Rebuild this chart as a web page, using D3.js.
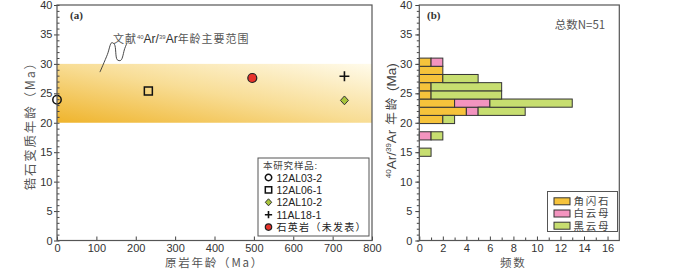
<!DOCTYPE html>
<html><head><meta charset="utf-8">
<script src="https://cdn.jsdelivr.net/npm/d3@7"></script>
<style>body{margin:0;background:#fff}svg{display:block}</style>
</head><body><svg id="c" width="700" height="271"></svg>
<script>
// ---- Panel (a) data ----
const samples = ["12AL03-2", "12AL06-1", "12AL10-2", "11AL18-1", "石英岩（未发表）"];
const sampleSymbols = ["circle", "square", "diamond", "plus", "dot"];
const protolithAge = [0, 232, 730, 730, 496];
const metamorphicAge = [23.9, 25.4, 23.8, 27.9, 27.6];
const bandRange = [20, 30];
const xTicksA = [0, 100, 200, 300, 400, 500, 600, 700, 800];
const yTicks = [0, 5, 10, 15, 20, 25, 30, 35, 40];

// ---- Panel (b) data ----
const binStart = [14.3, 17.08, 19.86, 21.25, 22.64, 24.03, 25.42, 26.81, 28.2, 29.59];
const binWidth = 1.39;
const minerals = ["角闪石", "白云母", "黑云母"];
const hornblende = [0, 0, 2, 4, 3, 1, 1, 2, 2, 1];
const muscovite = [0, 1, 0, 1, 3, 0, 0, 0, 0, 1];
const biotite = [1, 1, 1, 4, 7, 6, 6, 3, 0, 0];
const xTicksB = [0, 2, 4, 6, 8, 10, 12, 14, 16];
const totalN = 51;

const svg = d3.select("#c");
const SANS = "'Liberation Sans', Arial, sans-serif";
const CJK = "'Noto Sans CJK SC', 'Liberation Sans', sans-serif";
const CJKL = "'Liberation Sans', 'Noto Sans CJK SC', sans-serif";
const axisCol = "#444";

const yTop = 5, yBottom = 240.5;
const y = d3.scaleLinear().domain([0, 40]).range([yBottom, yTop]);
const xA = d3.scaleLinear().domain([0, 800]).range([57, 372]);
const xB = d3.scaleLinear().domain([0, 17]).range([419.3, 619.3]);

// gradient
const defs = svg.append("defs");
const g1 = defs.append("linearGradient").attr("id", "band")
  .attr("x1", 0).attr("y1", 1).attr("x2", 1).attr("y2", 0);
g1.append("stop").attr("offset", 0).attr("stop-color", "#efb42c");
g1.append("stop").attr("offset", 0.5).attr("stop-color", "#f8dd95");
g1.append("stop").attr("offset", 1).attr("stop-color", "#fffbeb");

// ===== Panel (a) =====
const A = svg.append("g");
A.append("rect")
  .attr("x", xA(0)).attr("width", xA(800) - xA(0))
  .attr("y", y(bandRange[1])).attr("height", y(bandRange[0]) - y(bandRange[1]))
  .attr("fill", "url(#band)");

function styleAxis(g) {
  g.select(".domain").remove();
  g.selectAll("line").attr("stroke", axisCol).attr("stroke-width", 1);
  g.selectAll("text").attr("font-family", SANS).attr("font-size", 11).attr("fill", "#333");
}
// y axis A
A.append("g").attr("transform", `translate(${xA(0)},0)`)
  .call(d3.axisLeft(y).tickValues(d3.range(0, 41, 1)).tickSize(-2.5).tickFormat(""))
  .call(styleAxis);
A.append("g").attr("transform", `translate(${xA(0)},0)`)
  .call(d3.axisLeft(y).tickValues(yTicks).tickSize(3).tickPadding(1.5))
  .call(styleAxis);
// x axis A
A.append("g").attr("transform", `translate(0,${yBottom})`)
  .call(d3.axisBottom(xA).tickValues(xTicksA).tickSize(-4).tickPadding(3.5))
  .call(styleAxis);

// annotation
const annPts = [[109, 28.6], [128, 31.6], [139, 33.6], [146, 33.3], [153, 30.7], [162, 30.6], [172, 32.6], [178, 33.6]];
A.append("path")
  .attr("d", d3.line().x(d => xA(d[0])).y(d => y(d[1])).curve(d3.curveCatmullRom)(annPts))
  .attr("fill", "none").attr("stroke", "#333").attr("stroke-width", 0.9);
const ann = A.append("text").attr("x", xA(142)).attr("y", y(33.6))
  .attr("font-family", CJK).attr("font-size", 11).attr("fill", "#555");
ann.append("tspan").text("文献").attr("letter-spacing", 1);
ann.append("tspan").text("40").attr("font-size", 6).attr("dy", -4).attr("font-family", SANS);
ann.append("tspan").text("Ar/").attr("dy", 4).attr("font-family", SANS).attr("font-size", 12).attr("fill", "#333");
ann.append("tspan").text("39").attr("font-size", 6).attr("dy", -4).attr("font-family", SANS);
ann.append("tspan").text("Ar").attr("dy", 4).attr("font-family", SANS).attr("font-size", 12).attr("fill", "#333");
ann.append("tspan").text("年龄主要范围").attr("letter-spacing", 1);

A.append("text").attr("x", 70).attr("y", 19).text("(a)")
  .attr("font-family", "'Liberation Serif', 'DejaVu Serif', serif").attr("font-size", 11).attr("font-weight", "bold").attr("fill", "#333");

// symbols
function symPath(kind, s) {
  if (kind === "circle" || kind === "dot") return d3.symbol(d3.symbolCircle, Math.PI * s * s)();
  if (kind === "square") return d3.symbol(d3.symbolSquare, (2 * s) * (2 * s))();
  if (kind === "diamond") return `M0,${-s * 1.1}L${s},0L0,${s * 1.1}L${-s},0Z`;
  if (kind === "plus") return `M${-s * 1.1},0H${s * 1.1}M0,${-s * 1.1}V${s * 1.1}`;
}
function symStyle(sel, kind) {
  if (kind === "circle" || kind === "square") sel.attr("fill", "none").attr("stroke", "#111").attr("stroke-width", 1.5);
  if (kind === "dot") sel.attr("fill", "#e8322a").attr("stroke", "#222").attr("stroke-width", 1.2);
  if (kind === "diamond") sel.attr("fill", "#a8c43a").attr("stroke", "#333").attr("stroke-width", 1);
  if (kind === "plus") sel.attr("fill", "none").attr("stroke", "#111").attr("stroke-width", 1.6);
}
const ptSize = { circle: 4.2, square: 4, diamond: 4, plus: 4.5, dot: 4.5 };
samples.forEach((s, i) => {
  const k = sampleSymbols[i];
  A.append("path").attr("d", symPath(k, ptSize[k]))
    .attr("transform", `translate(${xA(protolithAge[i])},${y(metamorphicAge[i])})`)
    .call(symStyle, k);
});

// legend A
const LA = A.append("g").attr("transform", "translate(258,158)");
LA.append("rect").attr("width", 111).attr("height", 78).attr("fill", "#fff").attr("stroke", "#555").attr("stroke-width", 1);
LA.append("text").attr("x", 5).attr("y", 10.5).text("本研究样品:")
  .attr("font-family", CJKL).attr("font-size", 9.5).attr("letter-spacing", 0.8).attr("fill", "#444");
samples.forEach((s, i) => {
  const k = sampleSymbols[i];
  const yy = 19.5 + i * 12.4;
  LA.append("path").attr("d", symPath(k, k === "plus" ? 3.3 : 3.2))
    .attr("transform", `translate(10.5,${yy})`).call(symStyle, k);
  LA.append("text").attr("x", 18.5).attr("y", yy + 4).text(s)
    .attr("font-family", CJKL).attr("font-size", i < 4 ? 10.5 : 10)
    .attr("letter-spacing", i < 4 ? 0 : 1.3).attr("fill", "#222");
});

// frame A
A.append("rect").attr("x", xA(0)).attr("y", yTop).attr("width", xA(800) - xA(0)).attr("height", yBottom - yTop)
  .attr("fill", "none").attr("stroke", "#555").attr("stroke-width", 1.2);

// axis titles A
A.append("text").attr("transform", `translate(35,${(yTop + yBottom) / 2}) rotate(-90)`)
  .attr("text-anchor", "middle").text("锆石变质年龄（Ma）")
  .attr("font-family", CJK).attr("font-size", 12.5).attr("letter-spacing", 1.8).attr("fill", "#555");
A.append("text").attr("x", (xA(0) + xA(800)) / 2).attr("y", 267.3)
  .attr("text-anchor", "middle").text("原岩年龄（Ma）")
  .attr("font-family", CJK).attr("font-size", 11.5).attr("letter-spacing", 1.8).attr("fill", "#555");

// ===== Panel (b) =====
const B = svg.append("g");
const colors = { "角闪石": "#f6c33b", "白云母": "#f394bf", "黑云母": "#c7de70" };
const table = binStart.map((b, i) => ({ lo: b, "角闪石": hornblende[i], "白云母": muscovite[i], "黑云母": biotite[i] }));
const stack = d3.stack().keys(minerals)(table);
stack.forEach(layer => {
  B.append("g").selectAll("rect").data(layer.filter(d => d[1] > d[0])).join("rect")
    .attr("x", d => xB(d[0])).attr("width", d => xB(d[1]) - xB(d[0]))
    .attr("y", d => y(d.data.lo + binWidth)).attr("height", d => y(d.data.lo) - y(d.data.lo + binWidth))
    .attr("fill", colors[layer.key]).attr("stroke", "#333").attr("stroke-width", 1);
});

B.append("g").attr("transform", `translate(${xB(0)},0)`)
  .call(d3.axisLeft(y).tickValues(d3.range(0, 41, 1)).tickSize(2.5).tickFormat(""))
  .call(styleAxis);
B.append("g").attr("transform", `translate(${xB(0)},0)`)
  .call(d3.axisLeft(y).tickValues(yTicks).tickSize(4).tickPadding(3))
  .call(styleAxis);
B.append("g").attr("transform", `translate(0,${yBottom})`)
  .call(d3.axisBottom(xB).tickValues(d3.range(1, 17, 2)).tickSize(-3).tickFormat(""))
  .call(styleAxis);
B.append("g").attr("transform", `translate(0,${yBottom})`)
  .call(d3.axisBottom(xB).tickValues(xTicksB).tickSize(-4).tickPadding(3.5))
  .call(styleAxis);

B.append("rect").attr("x", xB(0)).attr("y", yTop).attr("width", xB(17) - xB(0)).attr("height", yBottom - yTop)
  .attr("fill", "none").attr("stroke", "#555").attr("stroke-width", 1.2);

B.append("text").attr("x", 427).attr("y", 19).text("(b)")
  .attr("font-family", "'Liberation Serif', 'DejaVu Serif', serif").attr("font-size", 11).attr("font-weight", "bold").attr("fill", "#333");
B.append("text").attr("x", 580).attr("y", 29).attr("text-anchor", "middle").text("总数N=" + totalN)
  .attr("font-family", CJK).attr("font-size", 11.5).attr("fill", "#555");

// legend B
const LB = B.append("g").attr("transform", "translate(547.5,191.5)");
LB.append("rect").attr("width", 70).attr("height", 40).attr("fill", "#fff").attr("stroke", "#555").attr("stroke-width", 1);
minerals.forEach((m, i) => {
  const yy = 9.8 + i * 12.2;
  LB.append("rect").attr("x", 6.5).attr("y", yy - 3.5).attr("width", 16).attr("height", 7)
    .attr("fill", colors[m]).attr("stroke", "#333").attr("stroke-width", 1);
  LB.append("text").attr("x", 26).attr("y", yy + 3.8).text(m)
    .attr("font-family", CJKL).attr("font-size", 10.5).attr("letter-spacing", 1.8).attr("fill", "#444");
});

// axis titles B
const ty = B.append("text").attr("transform", `translate(396,${(yTop + yBottom) / 2 - 2}) rotate(-90)`)
  .attr("text-anchor", "middle").attr("font-family", SANS).attr("font-size", 13.5).attr("fill", "#444");
ty.append("tspan").text("40").attr("font-size", 8).attr("dy", -5);
ty.append("tspan").text("Ar/").attr("dy", 5);
ty.append("tspan").text("39").attr("font-size", 8).attr("dy", -5);
ty.append("tspan").text("Ar").attr("dy", 5);
ty.append("tspan").text(" 年龄 ").attr("font-family", CJK).attr("font-size", 12.5).attr("letter-spacing", 2);
ty.append("tspan").text("(Ma)");
B.append("text").attr("x", (xB(0) + xB(17)) / 2 - 6).attr("y", 267.3).attr("text-anchor", "middle").text("频数")
  .attr("font-family", CJK).attr("font-size", 11.5).attr("letter-spacing", 1.8).attr("fill", "#555");
</script></body></html>
